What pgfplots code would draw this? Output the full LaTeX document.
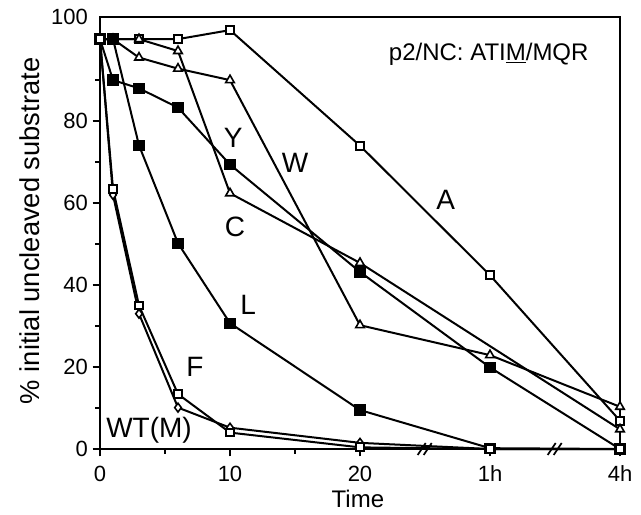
\documentclass[border=0pt]{standalone}
\usepackage{fontspec}
\setmainfont{Liberation Sans}
\usepackage{pgfplots}
\pgfplotsset{compat=1.18}
\begin{document}
\begin{tikzpicture}
\begin{axis}[
  scale only axis, width=390pt, height=324pt,
  xmin=0, xmax=40, ymin=0, ymax=105.4,
  axis line style={line width=1.4pt},
  xtick={0,10,20,30,40}, xticklabels={0,10,20,1h,4h},
  minor xtick={5,15},
  ytick={0,20,40,60,80}, minor ytick={10,30,50,70,90},
  extra y ticks={105.4}, extra y tick labels={100},
  extra y tick style={tick style={draw=none}},
  tick align=outside, tick pos=left,
  major tick length=5.5pt, minor tick length=3.5pt,
  every tick/.style={line width=1.1pt, black},
  /pgf/number format/assume math mode=true,
  tick label style={font=\fontsize{16.5}{19}\selectfont},
  xticklabel style={yshift=-3.5pt},
  xlabel={Time}, ylabel={\% initial uncleaved substrate},
  xlabel style={font=\fontsize{18}{21}\selectfont, at={(axis description cs:0.496,-0.116)}, anchor=center},
  ylabel style={font=\fontsize{20.5}{24}\selectfont, at={(axis description cs:-0.135,0.505)}, anchor=center},
  clip=false,
  every axis plot/.append style={line width=1.5pt, black},
]
% A
\addplot[mark=square*, mark size=3.1pt, mark options={solid, fill=white, line width=1.5pt}]
  coordinates {(0,100) (1,100) (3,100) (6,100) (10,102.2) (20,74) (30,42.4) (40,6.9)};
% W
\addplot[mark=triangle*, mark size=3.7pt, mark options={solid, fill=white, line width=1.2pt}]
  coordinates {(0,100) (1,100) (3,95.5) (6,92.8) (10,90) (20,30.2) (30,22.9) (40,10.3)};
% C
\addplot[mark=triangle*, mark size=3.7pt, mark options={solid, fill=white, line width=1.2pt}]
  coordinates {(0,100) (1,100) (3,100) (6,97.1) (10,62.4) (20,45.4) (40,4.8)};
% Y
\addplot[mark=square*, mark size=3.5pt, mark options={solid, fill=black}]
  coordinates {(0,100) (1,90) (3,88) (6,83.3) (10,69.4) (20,43.2) (30,19.9) (40,0)};
% L
\addplot[mark=square*, mark size=3.5pt, mark options={solid, fill=black}]
  coordinates {(0,100) (1,100) (3,74.1) (6,50.2) (10,30.7) (20,9.5) (30,0.2) (40,0)};
% WT(M)
\addplot[mark=diamond*, mark size=3.3pt, mark options={solid, fill=white, line width=1.2pt}]
  coordinates {(0,100) (1,62) (3,33) (6,10.1) (10,5.2) (20,1.5) (30,0) (40,0)};
% F
\addplot[mark=square*, mark size=2.9pt, mark options={solid, fill=white, line width=1.5pt}]
  coordinates {(0,100) (1,63.5) (3,35) (6,13.4) (10,4) (20,0.4) (30,0) (40,0)};

% axis break marks
\draw[line width=1.3pt] ([xshift=-5.5pt,yshift=-4.5pt]axis cs:25,0) -- ++(6pt,9pt);
\draw[line width=1.3pt] ([xshift=-1pt,yshift=-4.5pt]axis cs:25,0) -- ++(6pt,9pt);
\draw[line width=1.3pt] ([xshift=-5.5pt,yshift=-4.5pt]axis cs:35,0) -- ++(6pt,9pt);
\draw[line width=1.3pt] ([xshift=-1pt,yshift=-4.5pt]axis cs:35,0) -- ++(6pt,9pt);

\begin{scope}[every node/.style={font=\fontsize{21}{25}\selectfont}]
\node at (axis cs:10.25,75.8) {Y};
\node at (axis cs:15.0,69.7) {W};
\node at (axis cs:10.38,54.2) {C};
\node at (axis cs:11.4,35.1) {L};
\node at (axis cs:7.31,20.1) {F};
\node at (axis cs:3.77,4.6) {WT(M)};
\node at (axis cs:26.6,60.7) {A};
\end{scope}
\node[font=\fontsize{18}{22}\selectfont] at (axis cs:29.9,96.3) {p2/NC: ATI\underline{M}/MQR};
\end{axis}
\pgfresetboundingbox
\path ([shift={(-75pt,-48.75pt)}]current axis.south west) rectangle ([shift={(15.75pt,12.75pt)}]current axis.north east);
\end{tikzpicture}
\end{document}
